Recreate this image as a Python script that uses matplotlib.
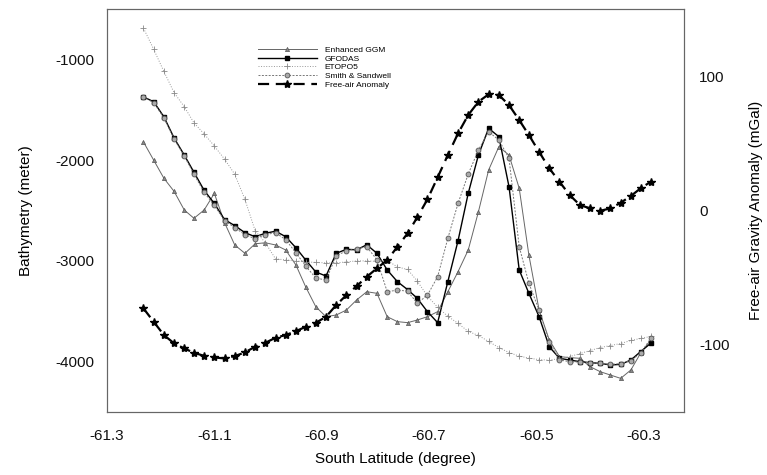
import matplotlib
matplotlib.use('Agg')
import matplotlib.pyplot as plt

plt.rcParams['font.family'] = ['Liberation Sans', 'DejaVu Sans']

# latitude of the profile points (degree)
lat = [-61.232, -61.213, -61.194, -61.175, -61.156, -61.138, -61.119, -61.100,
       -61.081, -61.062, -61.043, -61.024, -61.005, -60.986, -60.967, -60.948,
       -60.930, -60.911, -60.892, -60.873, -60.854, -60.835, -60.816, -60.797,
       -60.778, -60.759, -60.740, -60.722, -60.703, -60.684, -60.665, -60.646,
       -60.627, -60.608, -60.589, -60.570, -60.551, -60.532, -60.514, -60.495,
       -60.476, -60.457, -60.438, -60.419, -60.400, -60.381, -60.362, -60.343,
       -60.324, -60.306, -60.287]

# bathymetry (meter)
ggm = [-1820, -2000, -2180, -2310, -2495, -2577, -2495, -2330, -2620, -2842,
       -2925, -2830, -2820, -2842, -2892, -3041, -3256, -3455, -3554, -3537,
       -3488, -3388, -3306, -3322, -3554, -3603, -3613, -3587, -3554, -3504,
       -3306, -3107, -2892, -2512, -2098, -1867, -1950, -2280, -2942, -3488,
       -3785, -3950, -3960, -3967, -4050, -4100, -4133, -4166, -4083, -3917,
       -3785]
gfodas = [-1373, -1420, -1570, -1780, -1950, -2120, -2300, -2430, -2590, -2650,
          -2720, -2760, -2726, -2705, -2760, -2870, -2990, -3110, -3150, -2925,
          -2885, -2890, -2840, -2925, -3090, -3206, -3285, -3371, -3504, -3613,
          -3206, -2800, -2329, -1949, -1684, -1767, -2264, -3090, -3322, -3554,
          -3852, -3967, -3984, -4000, -4010, -4017, -4033, -4027, -3984, -3901,
          -3818]
etopo5 = [-690, -900, -1120, -1330, -1470, -1630, -1740, -1860, -1990, -2140,
          -2390, -2700, -2820, -2980, -2990, -3000, -3010, -3015, -3020, -3020,
          -3010, -3000, -3000, -3005, -2995, -3060, -3085, -3200, -3350, -3460,
          -3550, -3620, -3700, -3740, -3800, -3860, -3910, -3945, -3965, -3980,
          -3985, -3970, -3950, -3920, -3890, -3860, -3840, -3820, -3790, -3770,
          -3750]
smith = [-1373, -1430, -1580, -1790, -1960, -2140, -2320, -2450, -2600, -2670,
         -2740, -2780, -2740, -2720, -2790, -2920, -3050, -3170, -3190, -2950,
         -2900, -2880, -2860, -2990, -3306, -3290, -3300, -3421, -3340, -3157,
         -2776, -2429, -2138, -1899, -1718, -1800, -1982, -2859, -3222, -3488,
         -3802, -3984, -4000, -4005, -4010, -4017, -4027, -4020, -3990, -3917,
         -3768]

# free-air gravity anomaly (mGal)
freeair = [-72.9, -82.8, -92.7, -98.9, -102.7, -105.9, -108.2, -109.4, -110.1,
           -108.4, -105.6, -101.4, -98.5, -94.7, -92.7, -89.8, -86.6, -83.6,
           -79.1, -70.4, -63.0, -56.3, -49.3, -43.0, -36.9, -27.0, -17.0, -5.1,
           8.3, 24.7, 41.3, 57.4, 71.1, 81.0, 86.5, 86.0, 78.5, 67.3, 56.2, 43.7,
           31.4, 21.4, 11.5, 4.1, 1.6, -0.2, 1.6, 5.8, 10.8, 16.5, 21.4]

fig = plt.figure(figsize=(7.67, 4.75), dpi=100)
ax = fig.add_axes([0.1395, 0.1326, 0.7523, 0.8484])
ax2 = ax.twinx()

l1, = ax.plot(lat, ggm, color='#666666', lw=0.7, marker='^', ms=3,
              mfc='#888888', mec='#555555', mew=0.5, label='Enhanced GGM')
l2, = ax.plot(lat, gfodas, color='black', lw=1.0, marker='s', ms=3.5,
              mfc='black', mec='black', label='GFODAS')
l3, = ax.plot(lat, etopo5, color='#999999', lw=0.7, ls=':', marker='+', ms=4,
              mec='#888888', mew=0.6, label='ETOPO5')
l4, = ax.plot(lat, smith, color='#777777', lw=0.7, ls=(0, (2, 1.5)), marker='o',
              ms=3.5, mfc='#aaaaaa', mec='#555555', mew=0.6, label='Smith & Sandwell')
l5, = ax2.plot(lat, freeair, color='black', lw=1.6, ls=(0, (5, 3)), marker='*',
               ms=6, mfc='black', mec='black', label='Free-air Anomaly')

ax.set_xlim(-61.3, -60.225)
ax.set_ylim(-4500, -500)
ax2.set_ylim(-150, 150)
ax.set_xticks([-61.3, -61.1, -60.9, -60.7, -60.5, -60.3])
ax.set_xticklabels(['-61.3', '-61.1', '-60.9', '-60.7', '-60.5', '-60.3'])
ax.set_yticks([-1000, -2000, -3000, -4000])
ax.set_yticklabels(['-1000', '-2000', '-3000', '-4000'])
ax2.set_yticks([100, 0, -100])
ax2.set_yticklabels(['100', '0', '-100'])

ax.tick_params(axis='both', length=0, labelsize=11, colors='#111111')
ax.tick_params(axis='x', pad=12)
ax.tick_params(axis='y', pad=9)
ax2.tick_params(axis='y', length=0, labelsize=11, pad=11, colors='#111111')

for a in (ax, ax2):
    for s in a.spines.values():
        s.set_color('#666666')
        s.set_linewidth(0.8)

ax.set_xlabel('South Latitude (degree)', fontsize=11, labelpad=7)
ax.set_ylabel('Bathymetry (meter)', fontsize=11, labelpad=16)
ax2.set_ylabel('Free-air Gravity Anomaly (mGal)', fontsize=11, labelpad=14)

leg = ax.legend(handles=[l1, l2, l3, l4, l5], loc='upper left',
                bbox_to_anchor=(0.262, 0.908), frameon=False, fontsize=6,
                handlelength=7, handletextpad=1.0, labelspacing=0.1,
                borderaxespad=0, borderpad=0)

fig.savefig('out.png', dpi=100)
